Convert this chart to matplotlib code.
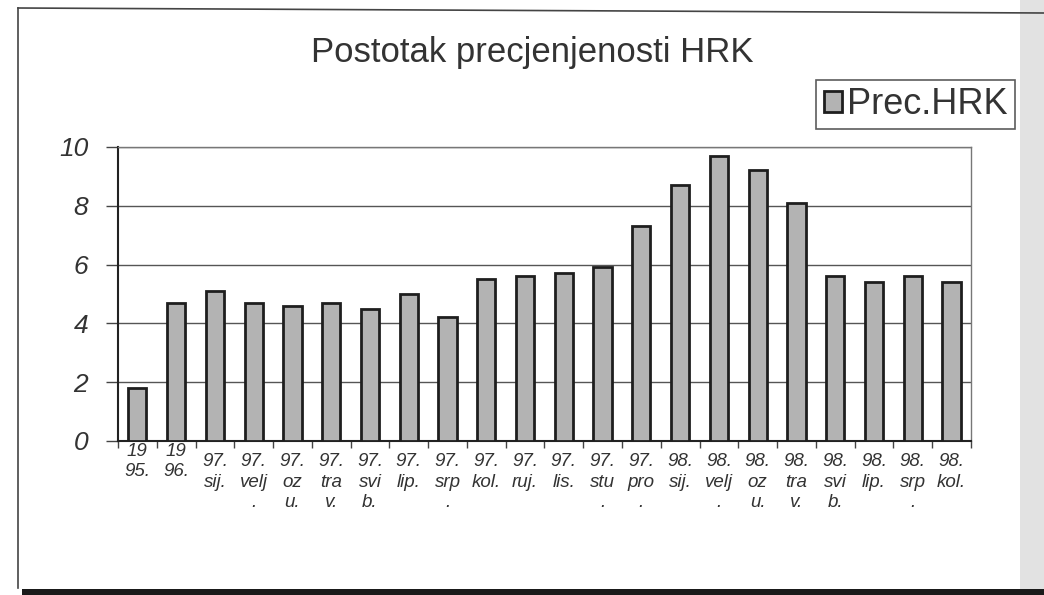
import matplotlib
matplotlib.use('Agg')
import matplotlib.pyplot as plt
from matplotlib.patches import Rectangle
from matplotlib.lines import Line2D
import numpy as np

plt.rcParams['font.family'] = ['Liberation Sans', 'DejaVu Sans']

# razdoblja (oznake kako ih Excel prelama u tri retka)
periods = ['19\n95.', '19\n96.',
           '97.\nsij.', '97.\nvelj\n.', '97.\noz\nu.', '97.\ntra\nv.', '97.\nsvi\nb.',
           '97.\nlip.', '97.\nsrp\n.', '97.\nkol.', '97.\nruj.', '97.\nlis.',
           '97.\nstu\n.', '97.\npro\n.',
           '98.\nsij.', '98.\nvelj\n.', '98.\noz\nu.', '98.\ntra\nv.', '98.\nsvi\nb.',
           '98.\nlip.', '98.\nsrp\n.', '98.\nkol.']

# postotak precjenjenosti kune
prec_hrk = [1.8, 4.7, 5.1, 4.7, 4.6, 4.7, 4.5, 5.0, 4.2, 5.5, 5.6,
            5.7, 5.9, 7.3, 8.7, 9.7, 9.2, 8.1, 5.6, 5.4, 5.6, 5.4]

yticks = [0, 2, 4, 6, 8, 10]

fig = plt.figure(figsize=(10.44, 5.95), dpi=100)
ax = fig.add_axes([0.113, 0.259, 0.817, 0.494])

x = np.arange(len(prec_hrk))
bars = ax.bar(x, prec_hrk, width=0.47, color='#b3b3b3', edgecolor='#1e1e1e',
              linewidth=2.0, label='Prec.HRK', zorder=3)

ax.set_xlim(-0.5, len(prec_hrk) - 0.5)
ax.set_ylim(0, 10)
ax.set_yticks(yticks)
ax.set_yticklabels([str(v) for v in yticks], fontsize=19, style='italic',
                   color='#333333')
ax.yaxis.grid(True, color='#555555', linewidth=1.0, zorder=0)

ax.set_xticks(x)
ax.set_xticklabels(periods, fontsize=13.5, style='italic', color='#333333',
                   linespacing=1.25, va='top')
ax.set_xticks(np.arange(-0.5, len(prec_hrk)), minor=True)
ax.tick_params(axis='x', which='major', length=0, pad=9)
ax.tick_params(axis='x', which='minor', length=5, width=1.0, color='#444444')
ax.tick_params(axis='y', length=8.5, width=1.0, color='#444444', pad=13)

# prve dvije oznake stoje malo više
for lab in ax.get_xticklabels()[:2]:
    lab.set_y(0.035)

for side in ['left', 'bottom']:
    ax.spines[side].set_color('#222222')
    ax.spines[side].set_linewidth(1.5)
for side in ['top', 'right']:
    ax.spines[side].set_color('#777777')
    ax.spines[side].set_linewidth(1.0)

fig.text(0.51, 0.912, 'Postotak precjenjenosti HRK', ha='center', va='center',
         fontsize=25, color='#333333')

leg = fig.legend(handles=[bars], loc='upper right',
                 bbox_to_anchor=(1015 / 1044, 1 - 80 / 595),
                 fontsize=26, frameon=True, fancybox=False, borderpad=0.2,
                 handlelength=0.5, handleheight=0.5, handletextpad=0.15,
                 borderaxespad=0)
leg.get_frame().set_edgecolor('#333333')
leg.get_frame().set_linewidth(1.2)
for t in leg.get_texts():
    t.set_color('#333333')

# okvir grafikona
fig.add_artist(Line2D([18 / 1044, 18 / 1044], [1 - 8 / 595, 1 - 588 / 595],
                      transform=fig.transFigure, color='#444444', linewidth=1.2))
fig.add_artist(Line2D([18 / 1044, 1.0], [1 - 8 / 595, 1 - 13 / 595],
                      transform=fig.transFigure, color='#444444', linewidth=1.2))
fig.add_artist(Rectangle((1020 / 1044, 0), 24 / 1044, 1, transform=fig.transFigure,
                         facecolor='#e2e2e2', edgecolor='none'))
fig.add_artist(Rectangle((22 / 1044, 0), 1, 6 / 595, transform=fig.transFigure,
                         facecolor='#1a1a1a', edgecolor='none'))

fig.savefig('out.png', dpi=100)
